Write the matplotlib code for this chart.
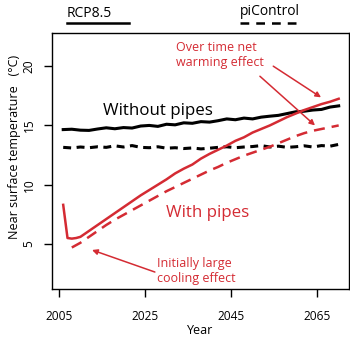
import matplotlib
matplotlib.use("Agg")
import matplotlib.pyplot as plt
from matplotlib.lines import Line2D

plt.rcParams['font.family'] = ['Open Sans', 'DejaVu Sans']

RED = '#d42b33'

# annual-ish readings (every 2 years)
years = [2006, 2008, 2010, 2012, 2014, 2016, 2018, 2020, 2022, 2024, 2026,
         2028, 2030, 2032, 2034, 2036, 2038, 2040, 2042, 2044, 2046, 2048,
         2050, 2052, 2054, 2056, 2058, 2060, 2062, 2064, 2066, 2068, 2070]

# RCP8.5, no pipes
rcp_nopipes = [14.65, 14.68, 14.60, 14.58, 14.70, 14.80, 14.72, 14.82, 14.78,
               14.95, 15.00, 14.92, 15.10, 15.05, 15.22, 15.18, 15.32, 15.28,
               15.40, 15.55, 15.48, 15.62, 15.55, 15.70, 15.78, 15.85, 16.00,
               16.15, 16.20, 16.30, 16.35, 16.55, 16.65]

# piControl, no pipes
ctl_nopipes = [13.15, 13.10, 13.18, 13.12, 13.20, 13.15, 13.28, 13.18, 13.30,
               13.15, 13.12, 13.20, 13.08, 13.12, 13.05, 13.10, 13.02, 13.08,
               13.15, 13.20, 13.12, 13.18, 13.22, 13.30, 13.18, 13.25, 13.15,
               13.20, 13.28, 13.18, 13.30, 13.25, 13.40]

# RCP8.5 with pipes (sharp drop at start)
years_rp = [2006, 2007, 2008, 2009, 2010, 2012, 2014, 2016, 2018, 2020, 2022,
            2024, 2026, 2028, 2030, 2032, 2034, 2036, 2038, 2040, 2042, 2044,
            2046, 2048, 2050, 2052, 2054, 2056, 2058, 2060, 2062, 2064, 2066,
            2068, 2070]
rcp_pipes = [8.3, 5.5, 5.45, 5.5, 5.6, 6.1, 6.6, 7.1, 7.6, 8.1, 8.6, 9.1, 9.55,
             10.0, 10.45, 10.95, 11.35, 11.7, 12.2, 12.6, 12.95, 13.3, 13.7,
             14.0, 14.4, 14.7, 15.0, 15.35, 15.7, 16.0, 16.3, 16.55, 16.8,
             17.0, 17.25]

# piControl with pipes
years_cp = years[1:]
ctl_pipes = [4.7, 5.1, 5.6, 6.1, 6.6, 7.05, 7.45, 7.85, 8.25, 8.65, 9.05, 9.45,
             9.8, 10.15, 10.5, 10.85, 11.2, 11.5, 11.85, 12.15, 12.45, 12.7,
             12.95, 13.2, 13.5, 13.8, 14.1, 14.35, 14.55, 14.7, 14.85, 15.0]

fig = plt.figure(figsize=(3.5, 3.38), dpi=100)
ax = fig.add_axes([0.1486, 0.1450, 0.8486, 0.7574])

ax.plot(years, rcp_nopipes, color='black', lw=2.2)
ax.plot(years, ctl_nopipes, color='black', lw=2.2, ls=(0, (2.6, 1.8)))
ax.plot(years_cp, ctl_pipes, color=RED, lw=1.8, ls=(0, (4.4, 2.8)))
ax.plot(years_rp, rcp_pipes, color=RED, lw=1.8)

ax.set_xlim(2003.4, 2072.4)
ax.set_ylim(1.2, 22.8)
ax.set_xticks([2005, 2025, 2045, 2065])
ax.set_yticks([5, 10, 15, 20])
ax.tick_params(direction='out', length=5.8, width=1.0, labelsize=8.6)
ax.tick_params(axis='x', pad=9)
ax.tick_params(axis='y', pad=6)
for lab in ax.get_yticklabels():
    lab.set_rotation(90)
    lab.set_va('center')
for sp in ax.spines.values():
    sp.set_linewidth(1.0)

ax.set_xlabel('Year', fontsize=9, labelpad=1)
fig.text(15 / 350, 1 - 147 / 338, 'Near surface temperature   (°C)',
         rotation=90, ha='center', va='center', fontsize=9)

# text labels
ax.text(2015.2, 15.85, 'Without pipes', fontsize=12.2, color='black')
ax.text(2029.9, 7.29, 'With pipes', fontsize=12.2, color=RED)
ax.text(2032.2, 22.1, 'Over time net\nwarming effect', fontsize=9, color=RED,
        va='top', linespacing=1.2)
ax.text(2027.8, 3.9, 'Initially large\ncooling effect', fontsize=9, color=RED,
        va='top', linespacing=1.2)

arr = dict(arrowstyle='-|>', color=RED, lw=1.1, mutation_scale=8,
           shrinkA=0, shrinkB=0)
ax.annotate('', xy=(2065.9, 17.37), xytext=(2054.8, 20.0), arrowprops=arr)
ax.annotate('', xy=(2064.5, 15.0), xytext=(2051.7, 19.15), arrowprops=arr)
ax.annotate('', xy=(2012.7, 4.49), xytext=(2027.3, 2.63), arrowprops=arr)

# legend above the box
fig.text(67 / 350, 1 - 17 / 338, 'RCP8.5', fontsize=10, va='baseline')
fig.text(240 / 350, 1 - 15 / 338, 'piControl', fontsize=10, va='baseline')
fig.add_artist(Line2D([67 / 350, 129 / 350], [1 - 23 / 338] * 2,
                      color='black', lw=1.8, transform=fig.transFigure))
fig.add_artist(Line2D([240 / 350, 303 / 350], [1 - 23 / 338] * 2,
                      color='black', lw=1.8, ls=(0, (3.5, 2.8)),
                      transform=fig.transFigure))

fig.savefig('out.png', dpi=100)
